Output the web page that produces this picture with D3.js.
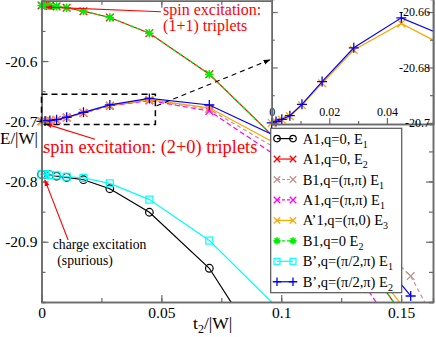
<!DOCTYPE html>
<html><head><meta charset="utf-8">
<script src="https://cdn.jsdelivr.net/npm/d3@7"></script>
<style>body{margin:0;background:#fff}svg{display:block}</style>
</head><body><svg id="c" width="436" height="337"></svg>
<script>
// ---- data ----
const tValues = [0, 0.0015, 0.0035, 0.0063, 0.0105, 0.0175, 0.0285, 0.045, 0.07, 0.1, 0.154, 0.2];
const A1_q0_E1   = [-20.788, -20.788, -20.789, -20.791, -20.793, -20.797, -20.812, -20.851, -20.944, -21.13, null, null];
const A1_q0_E2   = [-20.5077, -20.5078, -20.5085, -20.5093, -20.5115, -20.5172, -20.5277, -20.5538, -20.622, -20.738, -21.04, null];
const B1_pp_E1   = [-20.700, -20.6997, -20.6990, -20.6978, -20.6939, -20.6860, -20.6742, -20.6650, -20.680, -20.750, -20.957, -21.297];
const A1_pp_E1   = [-20.700, -20.6997, -20.6990, -20.6978, -20.6939, -20.6861, -20.6745, -20.6655, -20.683, -20.763, -21.087, null];
const Ap1_p0_E3  = [-20.700, -20.6996, -20.6988, -20.6976, -20.6936, -20.6857, -20.6737, -20.6641, -20.6777, -20.742, -21.025, null];
const B1_q0_E2   = [-20.5077, -20.5078, -20.5085, -20.5093, -20.5115, -20.5172, -20.5277, -20.5538, -20.622, -20.738, -21.04, null];
const Bp_E1      = [-20.788, -20.788, -20.789, -20.790, -20.792, -20.794, -20.803, -20.830, -20.898, -21.016, null, null];
const Bp_E2      = [-20.700, -20.6995, -20.6987, -20.6974, -20.6933, -20.6851, -20.6729, -20.6621, -20.673, -20.729, -20.99, null];

const legendLabels = ["A1,q=0, E", "A1,q=0, E", "B1,q=(π,π) E", "A1,q=(π,π) E", "A’1,q=(π,0) E", "B1,q=0 E", "B’,q=(π/2,π) E", "B’,q=(π/2,π) E"];
const legendSubs = ["1", "2", "1", "1", "3", "2", "1", "2"];
const insetSeries = [4, 7]; // A'1 E3 and B' E2 are drawn in the inset

const xTicks = [0, 0.05, 0.1, 0.15];
const xTickLabels = ["0", "0.05", "0.1", "0.15"];
const yTicks = [-20.6, -20.7, -20.8, -20.9];
const yTickLabels = ["-20.6", "-20.7", "-20.8", "-20.9"];
const insetXTicks = [0, 0.02, 0.04];
const insetXTickLabels = ["0", "0.02", "0.04"];
const insetYTicks = [-20.66, -20.68, -20.7];
const insetYTickLabels = ["-20.66", "-20.68", "-20.7"];

// ---- styling ----
const seriesVals = [A1_q0_E1, A1_q0_E2, B1_pp_E1, A1_pp_E1, Ap1_p0_E3, B1_q0_E2, Bp_E1, Bp_E2];
const colors = ["#000000", "#ff0000", "#c29191", "#ff00ff", "#ffa500", "#00ee00", "#00ffff", "#0000ff"];
const markers = ["circle", "x", "x", "x", "x", "star", "square", "plus"];
const dashes = [null, null, "4,3", "5,3", null, "4,3", null, null];
const series = seriesVals.map((v, i) => ({
  pts: tValues.map((t, j) => ({t, v: v[j]})).filter(d => d.v != null),
  color: colors[i], marker: markers[i], dash: dashes[i], label: legendLabels[i], sub: legendSubs[i]
}));

const FONT = "'Liberation Serif','Times New Roman',serif";
const AX = "#6a6a6a";
const svg = d3.select("#c");
const defs = svg.append("defs");

function arrowDef(id, col) {
  defs.append("marker").attr("id", id).attr("viewBox", "0 0 10 10").attr("refX", 9).attr("refY", 5)
    .attr("markerWidth", 7).attr("markerHeight", 7).attr("markerUnits", "userSpaceOnUse").attr("orient", "auto")
    .append("path").attr("d", "M0,1.5 L10,5 L0,8.5 Z").attr("fill", col);
}
arrowDef("arR", "#ff0000");
arrowDef("arK", "#000000");

function drawMarker(g, type, cx, cy, col, s) {
  s = s || 1;
  if (type === "circle") g.append("circle").attr("cx", cx).attr("cy", cy).attr("r", 3.8 * s).attr("fill", "none").attr("stroke", col).attr("stroke-width", 1.2);
  else if (type === "square") g.append("rect").attr("x", cx - 3.5 * s).attr("y", cy - 3.5 * s).attr("width", 7 * s).attr("height", 7 * s).attr("fill", "none").attr("stroke", col).attr("stroke-width", 1.2);
  else {
    let p = "";
    if (type === "x" || type === "star") { const a = (type === "star" ? 3 : 3.8) * s; p += `M${cx-a},${cy-a}L${cx+a},${cy+a}M${cx-a},${cy+a}L${cx+a},${cy-a}`; }
    if (type === "plus" || type === "star") { const a = (type === "star" ? 4.2 : 5) * s; p += `M${cx-a},${cy}L${cx+a},${cy}M${cx},${cy-a}L${cx},${cy+a}`; }
    g.append("path").attr("d", p).attr("stroke", col).attr("stroke-width", type === "star" ? 1.6 : 1.3).attr("fill", "none");
  }
}

// ---- main plot ----
const x = d3.scaleLinear().domain([0, 0.1633]).range([41.5, 433]);
const y = d3.scaleLinear().domain([-21.0, -20.5]).range([302, 0.8]);

defs.append("clipPath").attr("id", "clipMain").append("rect").attr("x", 41.5).attr("y", 0.8).attr("width", 433 - 41.5).attr("height", 301.2);

const gData = svg.append("g");
const lineMain = d3.line().x(d => x(d.t)).y(d => y(d.v));
series.forEach(s => {
  gData.append("path").datum(s.pts).attr("d", lineMain).attr("fill", "none").attr("stroke", s.color)
    .attr("stroke-width", 1.2).attr("stroke-dasharray", s.dash).attr("clip-path", "url(#clipMain)");
  s.pts.filter(d => d.t <= 0.1633 && d.v >= -21.005 && d.v <= -20.5).forEach(d => drawMarker(gData, s.marker, x(d.t), y(d.v), s.color));
});

// axes
function styleAxis(g) {
  g.select(".domain").attr("stroke", AX).attr("stroke-width", 1.5);
  g.selectAll(".tick line").attr("stroke", AX).attr("stroke-width", 1.2);
  g.selectAll("text").attr("font-family", FONT).attr("font-size", 15.5).attr("fill", "#000");
}
const xMinor = d3.range(0, 0.1634, 0.025);
const yMinor = d3.range(-21.0, -20.49, 0.05);
svg.append("g").attr("transform", "translate(0,302)").call(d3.axisBottom(x).tickValues(xMinor).tickSize(-4).tickFormat("")).call(styleAxis);
svg.append("g").attr("transform", "translate(0,302)").call(d3.axisBottom(x).tickValues(xTicks).tickSizeInner(-7).tickSizeOuter(0).tickPadding(5).tickFormat((d, i) => xTickLabels[i])).call(styleAxis);
svg.append("g").attr("transform", "translate(0,0.8)").call(d3.axisTop(x).tickValues(xMinor).tickSize(-4).tickFormat("")).call(styleAxis);
svg.append("g").attr("transform", "translate(0,0.8)").call(d3.axisTop(x).tickValues(xTicks).tickSizeInner(-7).tickSizeOuter(0).tickFormat("")).call(styleAxis);
svg.append("g").attr("transform", "translate(41.5,0)").call(d3.axisLeft(y).tickValues(yMinor).tickSize(-4).tickFormat("")).call(styleAxis);
svg.append("g").attr("transform", "translate(41.5,0)").call(d3.axisLeft(y).tickValues(yTicks).tickSizeInner(-7).tickSizeOuter(0).tickPadding(4).tickFormat((d, i) => yTickLabels[i])).call(styleAxis);
svg.append("g").attr("transform", "translate(433,0)").call(d3.axisRight(y).tickValues(yMinor).tickSize(-4).tickFormat("")).call(styleAxis);
svg.append("g").attr("transform", "translate(433,0)").call(d3.axisRight(y).tickValues(yTicks).tickSizeInner(-7).tickSizeOuter(0).tickFormat("")).call(styleAxis);

// axis titles
svg.append("text").attr("x", 0).attr("y", 144).attr("font-family", FONT).attr("font-size", 17).text("E/|W|");
const xt = svg.append("text").attr("x", 193).attr("y", 329).attr("font-family", FONT).attr("font-size", 17.5);
xt.append("tspan").text("t");
xt.append("tspan").attr("dy", 4).attr("font-size", 12).text("2");
xt.append("tspan").attr("dy", -4).text("/|W|");

// annotations (positions in data units)
const annot = svg.append("g");
annot.append("line").attr("x1", x(0.0498)).attr("y1", y(-20.5183)).attr("x2", x(0.0019)).attr("y2", y(-20.5105))
  .attr("stroke", "#ff0000").attr("stroke-width", 1.1).attr("marker-end", "url(#arR)");
annot.append("text").attr("x", x(0.0507)).attr("y", y(-20.5233)).attr("font-family", FONT).attr("font-size", 16).attr("fill", "#ff0000").text("spin excitation:");
annot.append("text").attr("x", x(0.0507)).attr("y", y(-20.5498)).attr("font-family", FONT).attr("font-size", 16).attr("fill", "#ff0000").text("(1+1) triplets");

annot.append("line").attr("x1", x(0.0223)).attr("y1", y(-20.7297)).attr("x2", x(0.0017)).attr("y2", y(-20.7043))
  .attr("stroke", "#ff0000").attr("stroke-width", 1.1).attr("marker-end", "url(#arR)");
annot.append("text").attr("x", x(0.0007)).attr("y", y(-20.7533)).attr("font-family", FONT).attr("font-size", 18.4).attr("fill", "#ff0000").text("spin excitation: (2+0) triplets");

annot.append("line").attr("x1", x(0.0111)).attr("y1", y(-20.897)).attr("x2", x(0.0014)).attr("y2", y(-20.7973))
  .attr("stroke", "#ff0000").attr("stroke-width", 1.1).attr("marker-end", "url(#arR)");
annot.append("text").attr("x", x(0.0047)).attr("y", y(-20.9125)).attr("font-family", FONT).attr("font-size", 13.7).text("charge excitation");
annot.append("text").attr("x", x(0.0066)).attr("y", y(-20.9385)).attr("font-family", FONT).attr("font-size", 13.7).text("(spurious)");

// zoom rectangle + arrow
annot.append("rect").attr("x", x(0)).attr("y", y(-20.655)).attr("width", x(0.0475) - x(0)).attr("height", y(-20.7055) - y(-20.655))
  .attr("fill", "none").attr("stroke", "#000").attr("stroke-width", 1.5).attr("stroke-dasharray", "6,4");
annot.append("line").attr("x1", x(0.048)).attr("y1", y(-20.6744)).attr("x2", x(0.0953)).attr("y2", y(-20.598))
  .attr("stroke", "#000").attr("stroke-width", 1.1).attr("stroke-dasharray", "5,4").attr("marker-end", "url(#arK)");

// ---- inset ----
const ix = d3.scaleLinear().domain([0, 0.056]).range([271.7, 433]);
const iy = d3.scaleLinear().domain([-20.7004, -20.6553]).range([124, -1]);
const gi = svg.append("g");
gi.append("rect").attr("x", 271.7).attr("y", -1).attr("width", 433 - 271.7).attr("height", 125).attr("fill", "#fff");
defs.append("clipPath").attr("id", "clipInset").append("rect").attr("x", 271.7).attr("y", -1).attr("width", 433 - 271.7).attr("height", 125);
const lineInset = d3.line().x(d => ix(d.t)).y(d => iy(d.v));
insetSeries.map(i => series[i]).forEach(s => {
  gi.append("path").datum(s.pts).attr("d", lineInset).attr("fill", "none").attr("stroke", s.color)
    .attr("stroke-width", 1.2).attr("stroke-dasharray", s.dash).attr("clip-path", "url(#clipInset)");
  s.pts.filter(d => d.t <= 0.056 && d.v >= -20.7004 && d.v <= -20.6553).forEach(d => drawMarker(gi, s.marker, ix(d.t), iy(d.v), s.color));
});
function styleInset(g) {
  g.select(".domain").attr("stroke", AX).attr("stroke-width", 1.5);
  g.selectAll(".tick line").attr("stroke", AX).attr("stroke-width", 1.2);
  g.selectAll("text").attr("font-family", FONT).attr("font-size", 12).attr("fill", "#000");
}
const ixMinor = [0.01, 0.03, 0.05];
const iyMinor = [-20.67, -20.69];
gi.append("g").attr("transform", "translate(0,124)").call(d3.axisBottom(ix).tickValues(ixMinor).tickSize(-3).tickFormat("")).call(styleInset);
gi.append("g").attr("transform", "translate(0,124)").call(d3.axisBottom(ix).tickValues(insetXTicks).tickSizeInner(-6).tickSizeOuter(0).tickPadding(-17).tickFormat((d, i) => insetXTickLabels[i])).call(styleInset);
gi.append("g").attr("transform", "translate(271.7,0)").call(d3.axisLeft(iy).tickValues(iyMinor).tickSize(-3).tickFormat("")).call(styleInset);
gi.append("g").attr("transform", "translate(271.7,0)").call(d3.axisLeft(iy).tickValues(insetYTicks).tickSizeInner(-6).tickSizeOuter(0).tickFormat("")).call(styleInset);
gi.append("g").attr("transform", "translate(433,0)").call(d3.axisRight(iy).tickValues(iyMinor).tickSize(-3).tickFormat("")).call(styleInset);
gi.append("g").attr("transform", "translate(433,0)").call(d3.axisRight(iy).tickValues(insetYTicks).tickSizeInner(-6).tickSizeOuter(0).tickPadding(-3).tickFormat((d, i) => insetYTickLabels[i])).call(styleInset)
  .selectAll("text").attr("text-anchor", "end");

// ---- legend ----
const lg = svg.append("g");
lg.append("rect").attr("x", 270.7).attr("y", 128.3).attr("width", 131).attr("height", 164.4).attr("fill", "#fff").attr("stroke", "#555").attr("stroke-width", 1.2);
series.forEach((s, i) => {
  const cy = 138.6 + i * 20.45;
  lg.append("line").attr("x1", 277).attr("x2", 293).attr("y1", cy).attr("y2", cy).attr("stroke", s.color).attr("stroke-width", 1.2).attr("stroke-dasharray", s.dash ? "3,2" : null);
  drawMarker(lg, s.marker, 277, cy, s.color, 0.85);
  drawMarker(lg, s.marker, 293, cy, s.color, 0.85);
  const tx = lg.append("text").attr("x", 302.7).attr("y", cy + 5).attr("font-family", FONT).attr("font-size", 14.5);
  tx.append("tspan").text(s.label);
  tx.append("tspan").attr("dy", 4).attr("font-size", 10).text(s.sub);
});
</script></body></html>
